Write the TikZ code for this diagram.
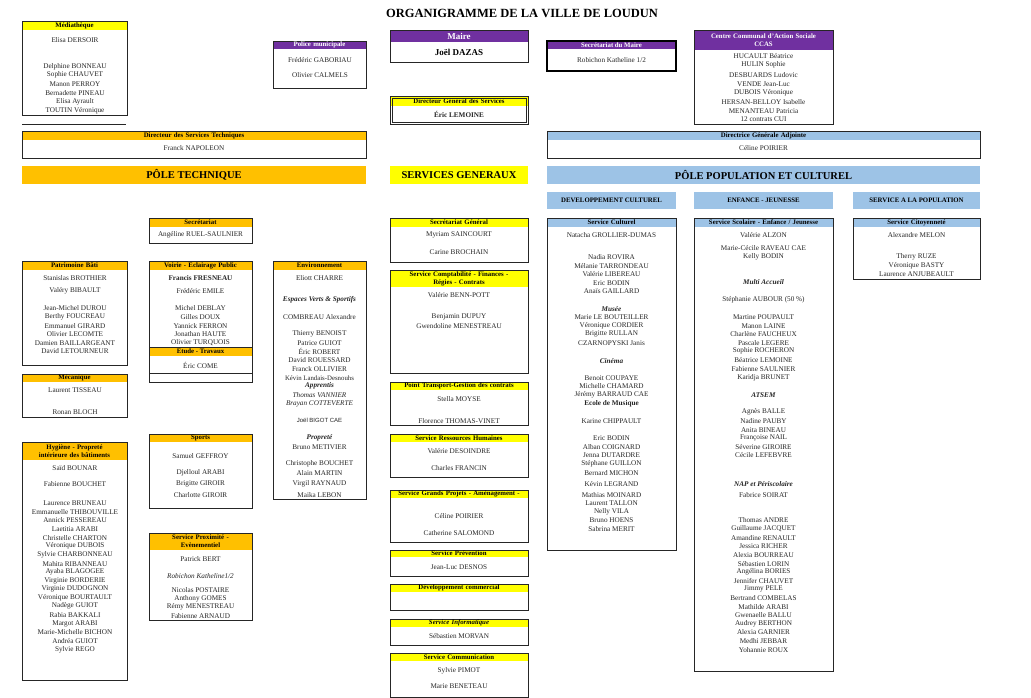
\documentclass[tikz,border=0pt]{standalone}
\usepackage{fontspec}
\setmainfont{Liberation Serif}
\newfontfamily\sansf{Liberation Sans}
\definecolor{cyel}{HTML}{FFFF00}
\definecolor{corg}{HTML}{FFC000}
\definecolor{cpur}{HTML}{7030A0}
\definecolor{cblu}{HTML}{9DC3E6}
\definecolor{ctxt}{HTML}{262626}
\newcommand{\unitbox}[8]{%
  \fill[#7] (#2,#3) rectangle (#4,#6);
  \draw[boxline] (#2,#3) rectangle (#4,#5);
  \node[hdr,text width=#4-#2-2pt] (#1) at ({(#2+#4)/2},{(#3+#6)/2}) {#8};}
\newcommand{\namelist}[3]{%
  \foreach \yy/\tt in {#3} {\node[nm] (#1-\yy) at (#2,\yy) {\tt};}}
\begin{document}
\begin{tikzpicture}[x=1pt,y=-1pt,
  boxline/.style={draw=black!85,line width=0.9pt},
  hdr/.style={inner sep=0pt,align=center,font=\fontsize{6.8}{7.8}\selectfont\bfseries,text=black},
  nm/.style={inner sep=0pt,font=\fontsize{7.2}{7.5}\selectfont,text=ctxt},
  band/.style={inner sep=0pt,font=\fontsize{10.5}{11}\selectfont\bfseries,text=black}]
\useasboundingbox (0,0) rectangle (1031,698);
\fill[white] (0,0) rectangle (1031,698);
\node[inner sep=0pt,font=\fontsize{12.5}{13}\selectfont\bfseries] (title) at (522,13) {ORGANIGRAMME DE LA VILLE DE LOUDUN};

% Médiathèque
\unitbox{med}{22}{21}{127}{115}{30}{cyel}{Médiathèque}
\namelist{med}{75}{40/Elisa DERSOIR,67/Delphine BONNEAU,75/Sophie CHAUVET,84/Manon PERROY,93/Bernadette PINEAU,102/Elisa Ayrault,111/TOUTIN Véronique}
\coordinate (mlA) at (22,124); \coordinate (mlB) at (126,124);
\draw[boxline] (mlA) -- (mlB);

% Police
\unitbox{pol}{273}{41}{366}{88}{49}{cpur}{\textcolor{white}{Police municipale}}
\namelist{pol}{320}{60/Frédéric GABORIAU,75/Olivier CALMELS}

% Maire
\unitbox{maire}{390}{30}{528}{62}{42}{cpur}{\textcolor{white}{\fontsize{9}{9.5}\selectfont Maire}}
\node[nm,font=\fontsize{9}{9.5}\selectfont\bfseries,text=black] (maire-n) at (459,52) {Joël DAZAS};

% Secrétariat du Maire
\fill[cpur] (547,41) rectangle (676,49);
\draw[draw=black,line width=1.6pt] (547,41) rectangle (676,71);
\node[hdr] (secm) at (611.5,45) {\textcolor{white}{Secrétariat du Maire}};
\node[nm] (secm-n) at (611.5,60) {Robichon Katheline 1/2};

% DGS
\unitbox{dgs}{390}{96}{528}{124}{106}{cyel}{Directeur Général des Services}
\draw[boxline,line width=0.6pt] (392,98) rectangle (526,122);
\node[nm,font=\fontsize{7.2}{7.5}\selectfont\bfseries] (dgs-n) at (459,114) {Éric LEMOINE};

% CCAS
\unitbox{ccas}{694}{30}{833}{124}{50}{cpur}{\textcolor{white}{Centre Communal d'Action Sociale\\CCAS}}
\namelist{ccas}{763.5}{56/HUCAULT Béatrice,65/HULIN Sophie,75/DESBUARDS Ludovic,84/VENDE Jean-Luc,93/DUBOIS Véronique,102/HERSAN-BELLOY Isabelle,111/MENANTEAU Patricia,119/12 contrats CUI}

% DST
\unitbox{dst}{22}{131}{366}{158}{140}{corg}{Directeur des Services Techniques}
\namelist{dst}{194}{148/Franck NAPOLEON}
% DGA
\unitbox{dga}{547}{131}{980}{158}{140}{cblu}{Directrice Générale Adjointe}
\namelist{dga}{763.5}{148/Céline POIRIER}

% bands
\fill[corg] (22,166) rectangle (366,184);
\node[band] (pt) at (194,175) {PÔLE TECHNIQUE};
\fill[cyel] (390,166) rectangle (528,184);
\node[band] (sg) at (459,175) {SERVICES GENERAUX};
\fill[cblu] (547,166) rectangle (980,184);
\node[band] (ppc) at (763.5,175) {PÔLE POPULATION ET CULTUREL};
\fill[cblu] (547,192) rectangle (676,209);
\node[hdr] (dc) at (611.5,200.5) {DEVELOPPEMENT CULTUREL};
\fill[cblu] (694,192) rectangle (833,209);
\node[hdr] (ej) at (763.5,200.5) {ENFANCE - JEUNESSE};
\fill[cblu] (853,192) rectangle (980,209);
\node[hdr] (sp) at (916.5,200.5) {SERVICE A LA POPULATION};

% Pôle technique units
\unitbox{sect}{149}{218}{252}{243}{227}{corg}{Secrétariat}
\namelist{sect}{200.5}{235/Angéline RUEL-SAULNIER}

\unitbox{pat}{22}{261}{127}{365}{270}{corg}{Patrimoine Bâti}
\namelist{pat}{75}{278/Stanislas BROTHIER,291/Valéry BIBAULT,308/Jean-Michel DUROU,317/Berthy FOUCREAU,326/Emmanuel GIRARD,334/Olivier LECOMTE,343/Damien BAILLARGEANT,351/David LETOURNEUR}

\unitbox{meca}{22}{374}{127}{417}{382}{corg}{Mécanique}
\namelist{meca}{75}{390/Laurent TISSEAU,412/Ronan BLOCH}

\unitbox{voi}{149}{261}{252}{373}{270}{corg}{Voirie - Eclairage Public}
\namelist{voi}{200.5}{278/\textbf{Francis FRESNEAU},291/Frédéric EMILE,308/Michel DEBLAY,317/Gilles DOUX,326/Yannick FERRON,334/Jonathan HAUTE,343/Olivier TURQUOIS,365/Éric COME}
\fill[corg] (149.5,347) rectangle (251.5,356);
\draw[boxline] (149,347) -- (252,347);
\node[hdr] (etu) at (200.5,351.5) {Etude - Travaux};
\draw[boxline] (149,373) rectangle (252,382);

\unitbox{env}{273}{261}{366}{499}{270}{corg}{Environnement}
\namelist{env}{319.5}{278/Eliott CHARRE,300/\textbf{\textit{Espaces Verts \& Sportifs}},317/COMBREAU Alexandre,334/Thierry BENOIST,343/Patrice GUIOT,351/Éric ROBERT,360/David ROUESSARD,369/Franck OLLIVIER,378/{\fontsize{6.8}{7}\selectfont Kévin Landais-Desnouhs},386/\textbf{\textit{Apprentis}},395/\textit{Thomas VANNIER},404/\textit{Brayan COTTEVERTE},420/{\sansf\fontsize{6}{6.5}\selectfont Joël BIGOT CAE},438/\textbf{\textit{Propreté}},447/Bruno METIVIER,464/Christophe BOUCHET,473/Alain MARTIN,484/Virgil RAYNAUD,495/Maika LEBON}

\unitbox{hyg}{22}{442}{127}{680}{460}{corg}{Hygiène - Propreté\\intérieure des bâtiments}
\namelist{hyg}{75}{468/Saïd BOUNAR,484/Fabienne BOUCHET,503/Laurence BRUNEAU,512/Emmanuelle THIBOUVILLE,520/Annick PESSEREAU,529/Laetitia ARABI,538/Christelle CHARTON,546/Véronique DUBOIS,555/Sylvie CHARBONNEAU,564/Mahita RIBANNEAU,572/Ayaba BLAGOGEE,581/Virginie BORDERIE,589/Virginie DUDOGNON,598/Véronique BOURTAULT,606/Nadège GUIOT,615/Rabia BAKKALI,624/Margot ARABI,632/Marie-Michelle BICHON,641/Andréa GUIOT,650/Sylvie REGO}

\unitbox{spo}{149}{434}{252}{508}{442}{corg}{Sports}
\namelist{spo}{200.5}{456/Samuel GEFFROY,473/Djelloul ARABI,484/Brigitte GIROIR,495/Charlotte GIROIR}

\unitbox{prox}{149}{533}{252}{620}{550}{corg}{Service Proximité -\\Evènementiel}
\namelist{prox}{200.5}{559/Patrick BERT,576/{\textit{Robichon Katheline1/2}},590/Nicolas POSTAIRE,599/Anthony GOMES,607/Rémy MENESTREAU,616/Fabienne ARNAUD}

% Services généraux
\unitbox{secg}{390}{218}{528}{262}{227}{cyel}{Secrétariat Général}
\namelist{secg}{459}{235/Myriam SAINCOURT,252/Carine BROCHAIN}
\unitbox{compta}{390}{270}{528}{373}{287}{cyel}{Service Comptabilité - Finances -\\Régies - Contrats}
\namelist{compta}{459}{295/Valérie BENN-POTT,317/Benjamin DUPUY,326/Gwendoline MENESTREAU}
\unitbox{tra}{390}{382}{528}{425}{390}{cyel}{Point Transport-Gestion des contrats}
\namelist{tra}{459}{399/Stella MOYSE,421/Florence THOMAS-VINET}
\unitbox{rh}{390}{434}{528}{477}{442}{cyel}{Service Ressources Humaines}
\namelist{rh}{459}{451/Valérie DESOINDRE,468/Charles FRANCIN}
\unitbox{gp}{390}{490}{528}{542}{498}{cyel}{Service Grands Projets - Aménagement -}
\namelist{gp}{459}{516/Céline POIRIER,533/Catherine SALOMOND}
\unitbox{prev}{390}{550}{528}{576}{557}{cyel}{Service Prévention}
\namelist{prev}{459}{567/Jean-Luc DESNOS}
\unitbox{dev}{390}{584}{528}{610}{592}{cyel}{Développement commercial}
\unitbox{inf}{390}{619}{528}{645}{627}{cyel}{\textit{Service Informatique}}
\namelist{inf}{459}{636/Sébastien MORVAN}
\unitbox{com}{390}{653}{528}{697}{661}{cyel}{Service Communication}
\namelist{com}{459}{671/Sylvie PIMOT,686/Marie BENETEAU}

% Pôle population
\unitbox{cul}{547}{218}{676}{550}{227}{cblu}{Service Culturel}
\namelist{cul}{611.5}{235/Natacha GROLLIER-DUMAS,257/Nadia ROVIRA,266/Mélanie TARRONDEAU,274/Valérie LIBEREAU,283/Eric BODIN,291/Anaïs GAILLARD,309/\textbf{\textit{Musée}},317/Marie LE BOUTEILLER,326/Véronique CORDIER,334/Brigitte RULLAN,343/CZARNOPYSKI Janis,361/\textbf{\textit{Cinéma}},378/Benoit COUPAYE,386/Michelle CHAMARD,395/Jérémy BARRAUD CAE,404/\textbf{Ecole de Musique},421/Karine CHIPPAULT,438/Eric BODIN,447/Alban COIGNARD,455/Jenna DUTARDRE,464/Stéphane GUILLON,473/Bernard MICHON,484/Kévin LEGRAND,495/Mathias MOINARD,503/Laurent TALLON,512/Nelly VILA,520/Bruno HOENS,529/Sabrina MERIT}

\unitbox{sco}{694}{218}{833}{671}{227}{cblu}{Service Scolaire - Enfance / Jeunesse}
\namelist{sco}{763.5}{235/Valérie ALZON,248/Marie-Cécile RAVEAU CAE,257/Kelly BODIN,282/\textbf{\textit{Multi Accueil}},300/Stéphanie AUBOUR (50 \%),317/Martine POUPAULT,326/Manon LAINE,334/Charlène FAUCHEUX,343/Pascale LEGERE,351/Sophie ROCHERON,360/Béatrice LEMOINE,369/Fabienne SAULNIER,378/Karidja BRUNET,395/\textbf{\textit{ATSEM}},412/Agnès BALLE,421/Nadine PAUBY,430/Anita BINEAU,438/Françoise NAIL,447/Séverine GIROIRE,455/Cécile LEFEBVRE,484/\textbf{\textit{NAP et Périscolaire}},495/Fabrice SOIRAT,520/Thomas ANDRE,529/Guillaume JACQUET,538/Amandine RENAULT,546/Jessica RICHER,555/Alexia BOURREAU,564/Sébastien LORIN,572/Angélina BORIES,581/Jennifer CHAUVET,589/Jimmy PELE,598/Bertrand COMBELAS,607/Mathilde ARABI,615/Gwenaelle BALLU,624/Audrey BERTHON,632/Alexia GARNIER,641/Medhi JEBBAR,650/Yohannie ROUX}

\unitbox{cit}{853}{218}{980}{279}{227}{cblu}{Service Citoyenneté}
\namelist{cit}{916.5}{235/Alexandre MELON,257/Therry RUZE,266/Véronique BASTY,274/Laurence ANJUBEAULT}
\end{tikzpicture}
\end{document}
